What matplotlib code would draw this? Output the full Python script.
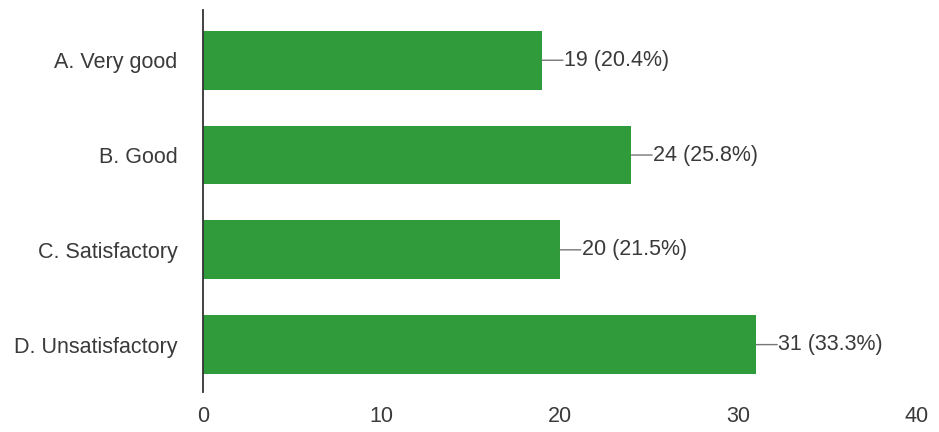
import matplotlib.pyplot as plt

categories = ["A. Very good", "B. Good", "C. Satisfactory", "D. Unsatisfactory"]
counts = [19, 24, 20, 31]
percents = [20.4, 25.8, 21.5, 33.3]

plt.rcParams['font.family'] = ['Liberation Sans', 'DejaVu Sans']

fig = plt.figure(figsize=(9.39, 4.32), dpi=100)
ax = fig.add_axes([203 / 939, 40 / 432, 714 / 939, 382 / 432])

pos = list(range(len(categories)))
ax.barh(pos, counts, height=0.62, color='#2f9b3b')

# value labels with a short leader line
for y, c, p in zip(pos, counts, percents):
    ax.annotate('', xy=(c, y), xytext=(15, 0), textcoords='offset points',
                arrowprops=dict(arrowstyle='-', color='#777777', lw=1,
                                shrinkA=0, shrinkB=0))
    ax.annotate(f'{c} ({p}%)', xy=(c, y), xytext=(15.5, 0),
                textcoords='offset points', va='center', ha='left',
                fontsize=15.5, color='#3a3a3a')

ax.set_xlim(0, 40)
ax.set_ylim(3.5, -0.53)
ax.set_yticks(pos)
ax.set_yticklabels(categories)
ax.set_xticks([0, 10, 20, 30, 40])

for s in ['top', 'right', 'bottom']:
    ax.spines[s].set_visible(False)
ax.spines['left'].set_color('#333333')
ax.spines['left'].set_linewidth(1.3)
ax.tick_params(axis='both', length=0, labelsize=15.5, labelcolor='#3a3a3a')
ax.tick_params(axis='y', pad=18.5)
ax.tick_params(axis='x', pad=10)

fig.savefig('out.png', dpi=100)
